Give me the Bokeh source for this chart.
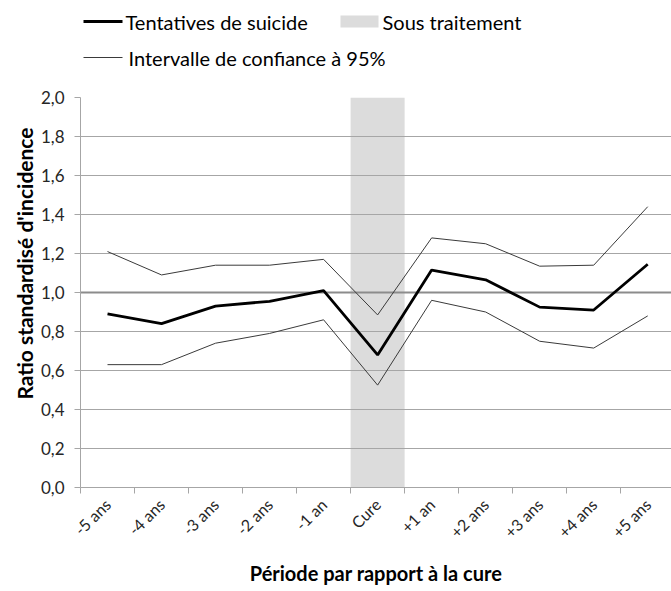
from math import pi

from bokeh.core.properties import value
from bokeh.embed import file_html
from bokeh.layouts import column
from bokeh.models import CustomJSTickFormatter, FixedTicker, Span, Title
from bokeh.plotting import figure
from bokeh.resources import INLINE

# Standardised incidence ratio of suicide attempts around the treatment year
periods = ["-5 ans", "-4 ans", "-3 ans", "-2 ans", "-1 an", "Cure",
           "+1 an", "+2 ans", "+3 ans", "+4 ans", "+5 ans"]
ratio = [0.89, 0.84, 0.93, 0.955, 1.01, 0.68, 1.115, 1.065, 0.925, 0.91, 1.145]
ci_upper = [1.21, 1.09, 1.14, 1.14, 1.17, 0.885, 1.28, 1.25, 1.135, 1.14, 1.44]
ci_lower = [0.63, 0.63, 0.74, 0.79, 0.86, 0.525, 0.96, 0.90, 0.75, 0.715, 0.88]
treatment_period = "Cure"
y_ticks = [0.0, 0.2, 0.4, 0.6, 0.8, 1.0, 1.2, 1.4, 1.6, 1.8, 2.0]

legend_labels = ["Tentatives de suicide", "Sous traitement", "Intervalle de confiance à 95%"]

FONT = "Lato"
GRID = "#a6a6a6"
TEXT = "#262626"
SHADE = "#dcdcdc"
CI_COLOR = "#3a3a3a"
W = 671
LEG_H = 87
LEFT = 80

# ---- legend strip above the chart (pixel coordinates, y grows downward) ----
leg = figure(width=W, height=LEG_H, x_range=(LEFT, W), y_range=(LEG_H, 0),
             output_backend="svg", toolbar_location=None,
             x_axis_type=None, y_axis_type=None,
             min_border=0, min_border_left=LEFT, min_border_right=0,
             min_border_top=0, min_border_bottom=0)
leg.outline_line_color = None
leg.xgrid.grid_line_color = None
leg.ygrid.grid_line_color = None

row1, row2 = 21, 57
leg.segment(x0=[83], y0=[row1], x1=[122], y1=[row1], line_color="black", line_width=3)
leg.quad(left=[340], right=[378], top=[row1 - 6], bottom=[row1 + 6],
         fill_color=SHADE, line_color=None)
leg.segment(x0=[83], y0=[row2], x1=[122], y1=[row2], line_color=CI_COLOR, line_width=1.2)
leg.text(x=[125, 382, 128], y=[row1, row1, row2], text=legend_labels,
         text_font=value(FONT), text_font_size="20px", text_color="black",
         text_baseline="middle", text_align="left")

# ---- main chart ----
xs = list(range(len(periods)))
t_idx = periods.index(treatment_period)

p = figure(width=W, height=591 - LEG_H, x_range=(-0.5, 10.44), y_range=(0, 2.0),
           output_backend="svg", toolbar_location=None,
           min_border_left=LEFT, min_border_right=0,
           min_border_top=10, min_border_bottom=104)
p.outline_line_color = None

# treatment period band
p.quad(left=[t_idx - 0.5], right=[t_idx + 0.5], bottom=[0], top=[y_ticks[-1]],
       fill_color=SHADE, line_color=None, level="image")

# reference line at ratio = 1
p.add_layout(Span(location=1.0, dimension="width", line_color="#8c8c8c",
                  line_width=2.2, level="underlay"))

p.line(xs, ci_upper, line_color=CI_COLOR, line_width=1)
p.line(xs, ci_lower, line_color=CI_COLOR, line_width=1)
p.line(xs, ratio, line_color="black", line_width=2.8)

# axes
p.yaxis.ticker = FixedTicker(ticks=y_ticks)
p.yaxis.formatter = CustomJSTickFormatter(code="return tick.toFixed(1).replace('.', ',');")
p.yaxis.axis_line_color = GRID
p.yaxis.major_tick_line_color = GRID
p.yaxis.major_tick_out = 6
p.yaxis.major_tick_in = 0
p.yaxis.minor_tick_line_color = None
p.yaxis.major_label_text_font = FONT
p.yaxis.major_label_text_font_size = "17px"
p.yaxis.major_label_text_color = TEXT
p.yaxis.major_label_standoff = 10

# y title as a side title so it can be placed along the axis
p.add_layout(Title(text="Ratio standardisé d'incidence", align="right", offset=30,
                   text_font=FONT, text_font_style="bold", text_font_size="21px",
                   text_color="black", standoff=2), "left")

p.xaxis.ticker = FixedTicker(ticks=xs, minor_ticks=[i - 0.5 for i in range(len(periods) + 1)])
p.xaxis.major_label_overrides = {i: lab for i, lab in enumerate(periods)}
p.xaxis.major_label_orientation = pi / 4
p.xaxis.major_tick_line_color = None
p.xaxis.minor_tick_line_color = GRID
p.xaxis.minor_tick_out = 6
p.xaxis.minor_tick_in = 0
p.xaxis.axis_line_color = GRID
p.xaxis.major_label_text_font = FONT
p.xaxis.major_label_text_font_size = "16px"
p.xaxis.major_label_text_color = TEXT
p.xaxis.major_label_standoff = 8
p.xaxis.axis_label = "Période par rapport à la cure"
p.xaxis.axis_label_text_font = FONT
p.xaxis.axis_label_text_font_style = "bold"
p.xaxis.axis_label_text_font_size = "20px"
p.xaxis.axis_label_text_color = "black"
p.xaxis.axis_label_standoff = 10

p.xgrid.grid_line_color = None
p.ygrid.ticker = FixedTicker(ticks=y_ticks)
p.ygrid.grid_line_color = GRID
p.ygrid.grid_line_width = 1

layout = column(leg, p, spacing=0)
open("out.html", "w").write(file_html(layout, INLINE))
